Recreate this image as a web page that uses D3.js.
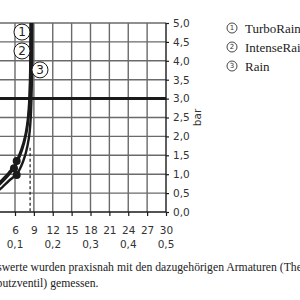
<!DOCTYPE html>
<html>
<head>
<meta charset="utf-8">
<script src="https://cdn.jsdelivr.net/npm/d3@7"></script>
<style>
  body { margin: 0; background: #fff; }
  svg { display: block; }
</style>
</head>
<body>
<svg id="chart" width="300" height="300"></svg>
<script>
// flow in l/min, pressure in bar
var flowTicks = [0, 3, 6, 9, 12, 15, 18, 21, 24, 27, 30];
var flowLsTicks = [0.1, 0.2, 0.3, 0.4, 0.5];
var pressureTicks = [0, 0.5, 1, 1.5, 2, 2.5, 3, 3.5, 4, 4.5, 5];
var seriesNames = ['TurboRain', 'IntenseRain', 'Rain'];

var turboRain = [[3, 0.68], [4, 0.86], [5, 1.04], [5.84, 1.2], [6.27, 1.35], [7, 1.65], [7.6, 2.0],
  [8.0, 2.4], [8.25, 2.9], [8.38, 3.5], [8.45, 4.2], [8.5, 5.0]];
var intenseRain = [[3, 0.64], [4, 0.8], [5, 0.98], [5.84, 1.16], [6.5, 1.37], [7.2, 1.68], [7.8, 2.08],
  [8.15, 2.5], [8.35, 3.0], [8.45, 3.8], [8.5, 5.0]];
var rain = [[3, 0.52], [4, 0.66], [5, 0.82], [6.27, 1.0], [7, 1.22], [7.7, 1.55], [8.2, 1.95],
  [8.5, 2.5], [8.65, 3.2], [8.72, 4.0], [8.75, 5.0]];
var dots = [[6.27, 1.35], [5.84, 1.16], [6.27, 0.98]];
var labelPos = [[7.11, 4.76], [7.11, 4.26], [9.97, 3.76]];
var dashedFlow = 8.4, dashedTop = 1.7;

var svg = d3.select('#chart');
var x = d3.scaleLinear().domain([0, 30]).range([-22.75, 166]);
var y = d3.scaleLinear().domain([0, 5]).range([212, 23]);
var tickFont = '"DejaVu Sans", sans-serif';
var serif = '"Liberation Serif", "Times New Roman", serif';

// grid
svg.selectAll('line.vgrid').data(flowTicks.filter(function(d) { return d < 30; }))
  .enter().append('line')
    .attr('x1', function(d) { return x(d); })
    .attr('x2', function(d) { return x(d); })
    .attr('y1', y(5)).attr('y2', y(0))
    .attr('stroke', '#6a6a6a').attr('stroke-width', 1.4);
svg.selectAll('line.hgrid').data(pressureTicks.filter(function(d) { return d > 0; }))
  .enter().append('line')
    .attr('x1', x(0)).attr('x2', x(30))
    .attr('y1', function(d) { return y(d); })
    .attr('y2', function(d) { return y(d); })
    .attr('stroke', function(d) { return d === 3 ? '#1a1a1a' : '#6a6a6a'; })
    .attr('stroke-width', function(d) { return d === 3 ? 3 : 1.4; });

// axes
var yAxis = d3.axisRight(y).tickValues(pressureTicks).tickSize(3).tickPadding(4)
  .tickFormat(function(d) { return d3.format('.1f')(d).replace('.', ','); });
var gy = svg.append('g').attr('transform', 'translate(' + x(30) + ',0)').call(yAxis);
var xAxis = d3.axisBottom(x).tickValues(flowTicks).tickSize(4).tickPadding(11);
var gx = svg.append('g').attr('transform', 'translate(0,' + y(0) + ')').call(xAxis);
[gx, gy].forEach(function(g) {
  g.select('.domain').attr('stroke', '#1a1a1a').attr('stroke-width', 1.4);
  g.selectAll('.tick line').attr('stroke', '#1a1a1a').attr('stroke-width', 1.2);
  g.selectAll('text').attr('font-family', tickFont).attr('font-size', 10.5).attr('fill', '#333');
});
gx.select('.domain').attr('d', 'M' + x(0) + ',0H' + x(30));
gy.select('.domain').attr('d', 'M0,' + y(5) + 'V' + y(0));

svg.selectAll('text.ls').data(flowLsTicks).enter().append('text')
  .attr('x', function(d) { return x(d * 60); })
  .attr('y', 248)
  .attr('text-anchor', 'middle')
  .attr('font-family', tickFont).attr('font-size', 10.5).attr('fill', '#333')
  .text(function(d) { return d3.format('.1f')(d).replace('.', ','); });

svg.append('text')
  .attr('transform', 'translate(201,' + y(2.5) + ') rotate(-90)')
  .attr('text-anchor', 'middle')
  .attr('font-family', tickFont).attr('font-size', 10.5).attr('fill', '#333')
  .text('bar');

// dashed marker
svg.append('line')
  .attr('x1', x(dashedFlow)).attr('x2', x(dashedFlow))
  .attr('y1', y(dashedTop)).attr('y2', y(0))
  .attr('stroke', '#1a1a1a').attr('stroke-width', 1.2)
  .attr('stroke-dasharray', '3,2.5');

// curves
var line = d3.line()
  .x(function(d) { return x(d[0]); })
  .y(function(d) { return y(d[1]); })
  .curve(d3.curveMonotoneY);
svg.selectAll('path.curve').data([turboRain, intenseRain, rain])
  .enter().append('path')
    .attr('d', line)
    .attr('fill', 'none')
    .attr('stroke', '#1a1a1a')
    .attr('stroke-width', 2.4);
svg.selectAll('circle.dot').data(dots).enter().append('circle')
  .attr('cx', function(d) { return x(d[0]); })
  .attr('cy', function(d) { return y(d[1]); })
  .attr('r', 4)
  .attr('fill', '#1a1a1a');

// curve labels
var lab = svg.selectAll('g.lab').data(labelPos).enter().append('g')
  .attr('transform', function(d) { return 'translate(' + x(d[0]) + ',' + y(d[1]) + ')'; });
lab.append('circle').attr('r', 8).attr('fill', '#fff')
  .attr('stroke', '#1a1a1a').attr('stroke-width', 1);
lab.append('text').attr('text-anchor', 'middle').attr('dy', '0.36em')
  .attr('font-family', tickFont).attr('font-size', 12).attr('fill', '#222')
  .text(function(d, i) { return i + 1; });

// legend
var leg = svg.selectAll('g.leg').data(seriesNames).enter().append('g')
  .attr('transform', function(d, i) { return 'translate(232,' + (28 + i * 19) + ')'; });
leg.append('circle').attr('r', 5).attr('fill', '#fff')
  .attr('stroke', '#333').attr('stroke-width', 0.9);
leg.append('text').attr('text-anchor', 'middle').attr('dy', '0.35em')
  .attr('font-family', tickFont).attr('font-size', 7).attr('fill', '#333')
  .text(function(d, i) { return i + 1; });
leg.append('text').attr('x', 13).attr('dy', '0.35em')
  .attr('font-family', serif).attr('font-size', 13).attr('fill', '#222')
  .text(function(d) { return d; });

// footnote
svg.append('text').attr('x', -23).attr('y', 271)
  .attr('font-family', serif).attr('font-size', 11.7).attr('fill', '#222')
  .text('Messwerte wurden praxisnah mit den dazugehörigen Armaturen (Thermostat und');
svg.append('text').attr('x', -30).attr('y', 287)
  .attr('font-family', serif).attr('font-size', 11.7).attr('fill', '#222')
  .text('Unterputzventil) gemessen.');
</script>
</body>
</html>
